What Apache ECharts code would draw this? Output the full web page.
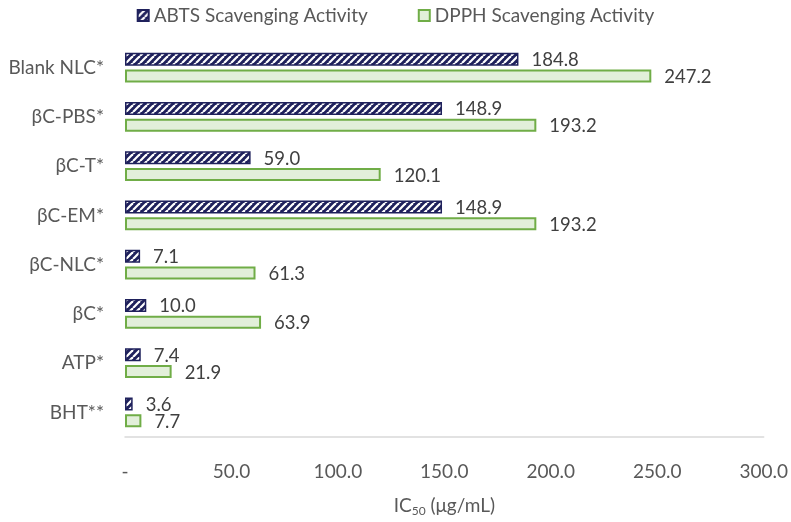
<!DOCTYPE html>
<html><head><meta charset="utf-8">
<script src="https://cdn.jsdelivr.net/npm/echarts@6/dist/echarts.min.js"></script>
<style>html,body{margin:0;padding:0;background:#fff}#c{width:791px;height:522px}</style>
</head><body><div id="c"></div>
<script>
const categories = ['Blank NLC*', 'βC-PBS*', 'βC-T*', 'βC-EM*', 'βC-NLC*', 'βC*', 'ATP*', 'BHT**'];
const abts = [184.8, 148.9, 59.0, 148.9, 7.1, 10.0, 7.4, 3.6];
const dpph = [247.2, 193.2, 120.1, 193.2, 61.3, 63.9, 21.9, 7.7];
const xTicks = [0, 50, 100, 150, 200, 250, 300];

const navy = '#1f215c';
const pc = document.createElement('canvas');
pc.width = 7; pc.height = 7;
const ctx = pc.getContext('2d');
ctx.fillStyle = navy; ctx.fillRect(0, 0, 7, 7);
ctx.strokeStyle = '#ffffff'; ctx.lineWidth = 2.2;
for (const o of [-7, 0, 7]) {
  ctx.beginPath(); ctx.moveTo(o, 7); ctx.lineTo(o + 7, 0); ctx.stroke();
}

const font = 'Lato, "Open Sans", sans-serif';
const chart = echarts.init(document.getElementById('c'));
chart.setOption({
  animation: false,
  textStyle: { fontFamily: font },
  legend: {
    top: 1, left: 'center', itemWidth: 11, itemHeight: 11, itemGap: 50,
    icon: 'rect',
    textStyle: { fontSize: 19, color: '#595959', fontFamily: font }
  },
  grid: { left: 125, right: 27, top: 43, bottom: 74 },
  xAxis: {
    type: 'value', min: xTicks[0], max: xTicks[xTicks.length - 1], interval: 50,
    axisLine: { show: true, lineStyle: { color: '#d9d9d9', width: 1.5 } },
    axisTick: { show: false }, splitLine: { show: false },
    axisLabel: {
      margin: 25, fontSize: 19, color: '#595959', fontFamily: font,
      formatter: v => v === 0 ? '-' : v.toFixed(1)
    },
    name: '{a|IC}{s|50}{a| (μg/mL)}', nameLocation: 'middle', nameGap: 58,
    nameTextStyle: {
      rich: {
        a: { fontSize: 19, color: '#595959', fontFamily: font },
        s: { fontSize: 12, color: '#595959', fontFamily: font, padding: [10, 0, 0, 0] }
      }
    }
  },
  yAxis: {
    type: 'category', data: categories, inverse: true,
    axisLine: { show: false }, axisTick: { show: false },
    axisLabel: { fontSize: 19, color: '#595959', margin: 21, fontFamily: font }
  },
  series: [
    {
      name: 'ABTS Scavenging Activity', type: 'bar', data: abts,
      barWidth: 13, barGap: '30%',
      itemStyle: { color: { image: pc, repeat: 'repeat' }, borderColor: navy, borderWidth: 1.5 },
      label: { show: true, position: 'right', distance: 13, fontSize: 18.5, color: '#404040', fontFamily: font,
        offset: [0, 1], formatter: p => p.value.toFixed(1) }
    },
    {
      name: 'DPPH Scavenging Activity', type: 'bar', data: dpph,
      barWidth: 13, barGap: '30%',
      itemStyle: { color: '#e2efda', borderColor: '#70ad47', borderWidth: 2 },
      label: { show: true, position: 'right', distance: 13, fontSize: 18.5, color: '#404040', fontFamily: font,
        offset: [0, 1], formatter: p => p.value.toFixed(1) }
    }
  ]
});
</script></body></html>
